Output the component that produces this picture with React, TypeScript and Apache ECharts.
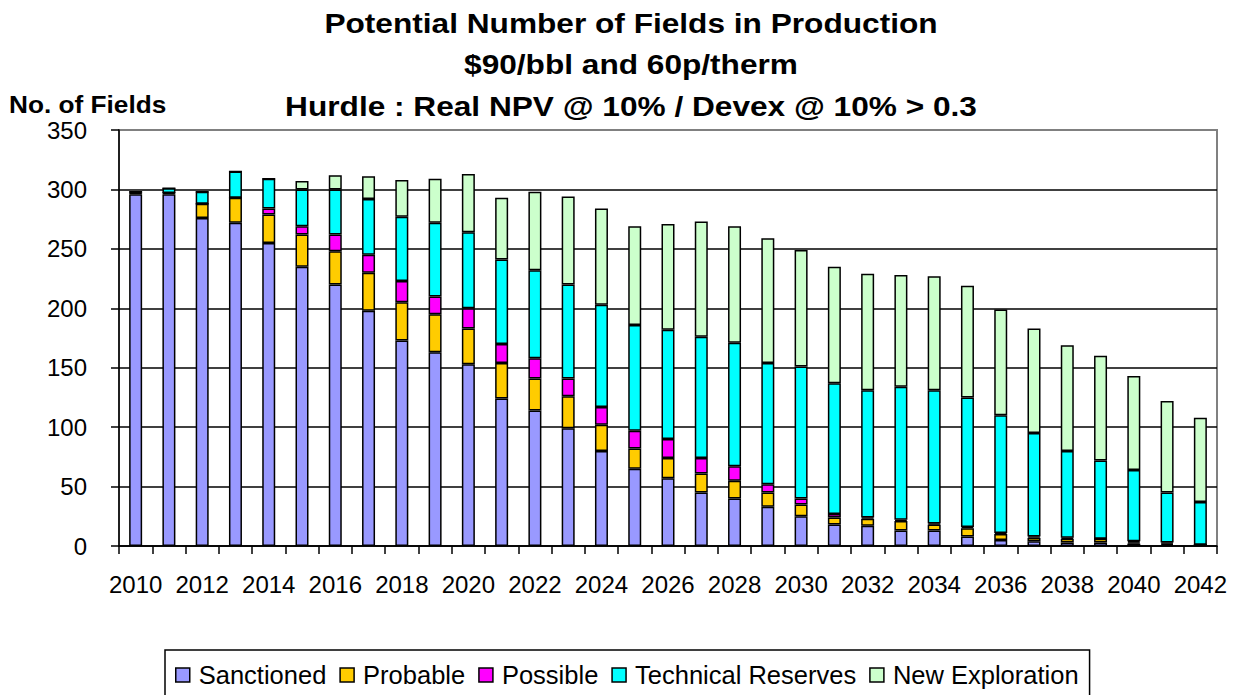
import React, { useEffect, useRef } from "react";
import * as echarts from "echarts";

const years = [
  "2010", "2011", "2012", "2013", "2014", "2015", "2016", "2017", "2018", "2019",
  "2020", "2021", "2022", "2023", "2024", "2025", "2026", "2027", "2028", "2029",
  "2030", "2031", "2032", "2033", "2034", "2035", "2036", "2037", "2038", "2039",
  "2040", "2041", "2042",
];

const sanctioned = [296, 296, 276, 272, 255, 235, 220, 198, 173, 163, 153, 124, 114, 99, 80, 65, 57, 45, 40, 33, 25, 18, 17, 13, 13, 8, 5, 4, 3, 3, 2, 1, 1];
const probable = [1, 1, 12, 21, 24, 27, 28, 32, 32, 32, 30, 30, 27, 27, 22, 17, 17, 16, 15, 12, 10, 6, 6, 8, 5, 7, 5, 3, 3, 3, 1, 1, 0];
const possible = [0, 0, 0, 0, 5, 7, 14, 15, 18, 15, 17, 16, 17, 15, 15, 15, 16, 13, 12, 7, 5, 3, 1, 1, 1, 1, 1, 1, 1, 0, 1, 1, 0];
const technicalReserves = [1, 4, 10, 22, 25, 31, 38, 47, 54, 62, 64, 71, 74, 79, 86, 89, 92, 102, 104, 102, 111, 110, 107, 112, 112, 109, 99, 87, 73, 66, 60, 42, 36];
const newExploration = [0, 0, 0, 0, 0, 7, 12, 19, 31, 37, 49, 52, 66, 74, 81, 83, 89, 97, 98, 105, 98, 98, 98, 94, 96, 94, 89, 88, 89, 88, 79, 77, 71];

const seriesNames = ["Sanctioned", "Probable", "Possible", "Technical Reserves", "New Exploration"];
const seriesColors = ["#9999FF", "#FFCC00", "#FF00FF", "#00FFFF", "#CCFFCC"];
const seriesData = [sanctioned, probable, possible, technicalReserves, newExploration];

const titleLines = [
  "Potential Number of Fields in Production",
  "$90/bbl and 60p/therm",
  "Hurdle : Real NPV @ 10% / Devex @ 10% > 0.3",
];
const yAxisTitle = "No. of Fields";

const FONT = '"Liberation Sans", Arial, sans-serif';

export default function App() {
  const ref = useRef<HTMLDivElement>(null);

  useEffect(() => {
    if (!ref.current) return;
    const chart = echarts.init(ref.current, null, { renderer: "svg" });
    const titleY = [23, 64, 106];
    const option: any = {
      animation: false,
      backgroundColor: "#ffffff",
      textStyle: { fontFamily: FONT },
      grid: {
        left: 119,
        right: 25,
        top: 130,
        bottom: 149,
        show: true,
        borderColor: "#808080",
        borderWidth: 2,
        backgroundColor: "transparent",
      },
      graphic: [
        ...titleLines.map((t, i) => ({
          type: "text",
          x: 631,
          y: titleY[i],
          scaleX: 1.13,
          style: {
            text: t,
            font: `bold 28px ${FONT}`,
            fill: "#000",
            textAlign: "center",
            textVerticalAlign: "middle",
          },
        })),
        {
          type: "text",
          x: 9,
          y: 105,
          scaleX: 1.14,
          style: {
            text: yAxisTitle,
            font: `bold 23px ${FONT}`,
            fill: "#000",
            textAlign: "left",
            textVerticalAlign: "middle",
          },
        },
      ],
      legend: {
        data: seriesNames,
        left: 165,
        top: 650,
        itemWidth: 14,
        itemHeight: 14,
        itemGap: 13,
        padding: [12, 11, 24, 10],
        borderColor: "#000",
        borderWidth: 1.5,
        icon: "rect",
        itemStyle: { borderColor: "#000", borderWidth: 1.5 },
        textStyle: {
          fontSize: 25.5,
          color: "#000",
          fontFamily: FONT,
          padding: [0, 0, 0, 4],
        },
      },
      xAxis: {
        type: "category",
        data: years,
        boundaryGap: true,
        axisLine: { lineStyle: { color: "#000", width: 1.5 } },
        axisTick: { show: true, interval: 0, length: 8, lineStyle: { color: "#000", width: 1.5 } },
        axisLabel: { interval: 1, fontSize: 24, color: "#000", margin: 26, fontFamily: FONT },
        splitLine: { show: false },
      },
      yAxis: {
        type: "value",
        min: 0,
        max: 350,
        interval: 50,
        axisLine: { show: true, lineStyle: { color: "#000", width: 1.5 } },
        axisTick: { show: true, length: 8, lineStyle: { color: "#000", width: 1.5 } },
        axisLabel: { fontSize: 24, color: "#000", margin: 32, fontFamily: FONT },
        splitLine: {
          show: true,
          lineStyle: {
            color: ["#000", "#000", "#000", "#000", "#000", "#000", "#000", "#808080"],
            width: 1.6,
          },
        },
      },
      series: seriesNames.map((name, i) => ({
        name,
        type: "bar",
        stack: "total",
        barWidth: 13,
        data: seriesData[i],
        itemStyle: { color: seriesColors[i], borderColor: "#000", borderWidth: 1.5 },
      })),
    };
    chart.setOption(option);
    return () => chart.dispose();
  }, []);

  return (
    <div
      ref={ref}
      style={{ position: "fixed", left: 0, top: 0, width: 1242, height: 695, background: "#fff" }}
    />
  );
}
